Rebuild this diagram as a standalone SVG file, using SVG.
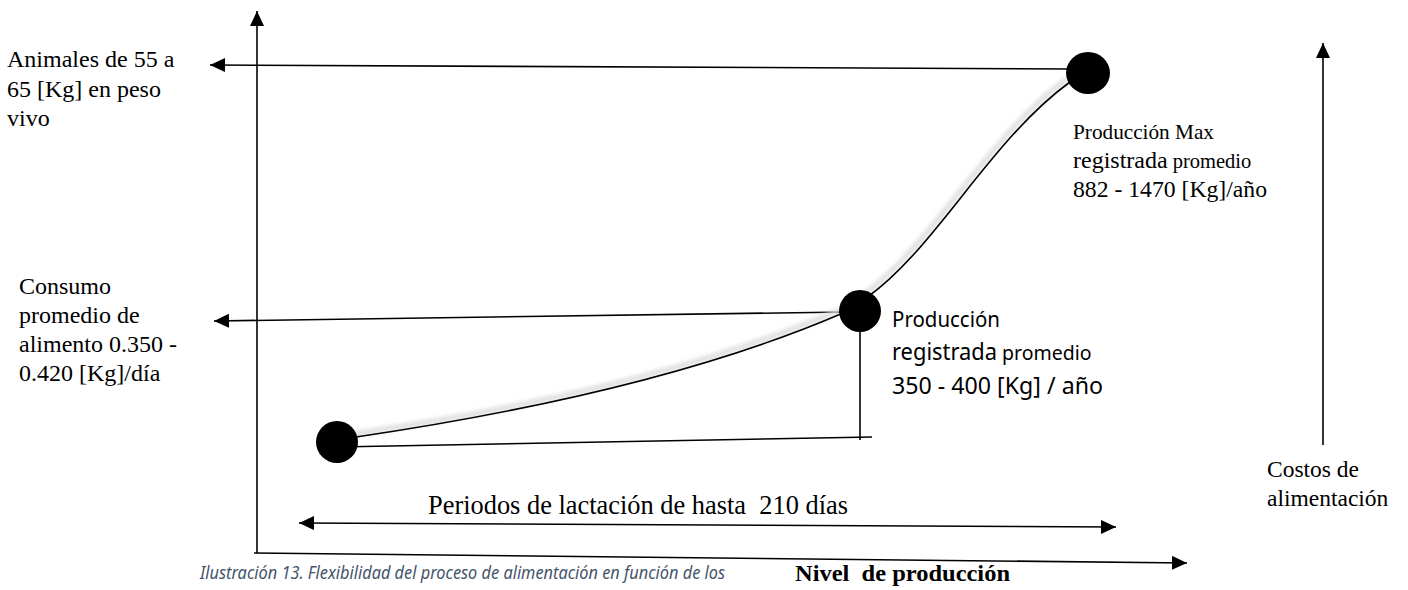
<svg xmlns="http://www.w3.org/2000/svg" width="1408" height="590" viewBox="0 0 1408 590">
<style>
.ln{stroke:#000;stroke-width:1.6;fill:none}
.sr{font-family:"Liberation Serif","Times New Roman",serif;fill:#000}
.sn{font-family:"Noto Sans","Open Sans",sans-serif;fill:#000}
.dot{fill:#000}
.shadow{stroke:#dcdcdc;stroke-width:5;fill:none;filter:url(#blur)}
</style>
<defs>
<marker id="ah" markerUnits="userSpaceOnUse" markerWidth="16" markerHeight="16" refX="15" refY="7" orient="auto-start-reverse">
<path d="M0,0 L15,7 L0,14 z" fill="#000"/>
</marker>
<filter id="blur" x="-10%" y="-10%" width="120%" height="120%"><feGaussianBlur stdDeviation="2"/></filter>
</defs>
<rect width="1408" height="590" fill="#fff"/>

<g id="connectors">
<path class="ln" d="M257,553 L257,11" marker-end="url(#ah)"/>
<path class="ln" d="M254,553 L1187,563" marker-end="url(#ah)"/>
<path class="ln" d="M1323,445 L1323,43" marker-end="url(#ah)"/>
<path class="ln" d="M299,523 L1116,527" marker-start="url(#ah)" marker-end="url(#ah)"/>
<path class="ln" d="M1072,69 L210,65" marker-end="url(#ah)"/>
<path class="ln" d="M845,312 L214,321" marker-end="url(#ah)"/>
<path class="ln" d="M337,447 L872,437"/>
<path class="ln" d="M860,311 L860,440"/>
<g transform="translate(-3,-3)">
<path class="shadow" d="M356,437 Q660,392 843,313"/>
<path class="shadow" d="M866,298 C935,250 990,140 1070,82"/>
</g>
<path class="ln" d="M356,437 Q660,392 843,313"/>
<path class="ln" d="M866,298 C935,250 990,140 1070,82"/>
</g>

<g id="node-max">
<ellipse class="dot" cx="1088" cy="73" rx="22" ry="21"/>
<text class="sr" x="1073" y="139" font-size="21" textLength="141" lengthAdjust="spacingAndGlyphs">Producción Max</text>
<text class="sr" x="1073" y="168"><tspan font-size="24">registrada</tspan><tspan font-size="20.5"> promedio</tspan></text>
<text class="sr" x="1073" y="197" font-size="24" textLength="194" lengthAdjust="spacingAndGlyphs">882 - 1470 [Kg]/año</text>
</g>

<g id="node-mid">
<circle class="dot" cx="860" cy="311" r="21"/>
<text class="sn" x="892" y="327" font-size="22" textLength="108" lengthAdjust="spacingAndGlyphs">Producción</text>
<text class="sn" x="892" y="360"><tspan font-size="23" textLength="105" lengthAdjust="spacingAndGlyphs">registrada</tspan><tspan font-size="19.5"> promedio</tspan></text>
<text class="sn" x="892" y="394" font-size="23" textLength="211" lengthAdjust="spacingAndGlyphs">350 - 400 [Kg] / año</text>
</g>

<g id="node-low">
<ellipse class="dot" cx="337" cy="442" rx="21" ry="21"/>
</g>

<g id="label-animales">
<text class="sr" font-size="24" x="7" y="67">Animales de 55 a</text>
<text class="sr" font-size="24" x="7" y="97">65 [Kg] en peso</text>
<text class="sr" font-size="24" x="7" y="126">vivo</text>
</g>

<g id="label-consumo">
<text class="sr" font-size="24" x="19" y="294">Consumo</text>
<text class="sr" font-size="24" x="19" y="323">promedio de</text>
<text class="sr" font-size="24" x="19" y="352">alimento 0.350 -</text>
<text class="sr" font-size="24" x="19" y="381">0.420 [Kg]/día</text>
</g>

<g id="label-periodos">
<text class="sr" font-size="28" x="428" y="514" textLength="420" lengthAdjust="spacingAndGlyphs">Periodos de lactación de hasta&#160; 210 días</text>
</g>

<g id="label-costos">
<text class="sr" font-size="23.5" x="1267" y="477">Costos de</text>
<text class="sr" font-size="23.5" x="1267" y="506">alimentación</text>
</g>

<g id="caption">
<text class="sn" font-style="italic" font-size="18" style="fill:#44546A" x="200" y="579" textLength="525" lengthAdjust="spacingAndGlyphs">Ilustración 13. Flexibilidad del proceso de alimentación en función de los</text>
<text class="sr" font-weight="bold" font-size="23.5" x="795" y="581" textLength="215" lengthAdjust="spacingAndGlyphs">Nivel&#160; de producción</text>
</g>
</svg>
